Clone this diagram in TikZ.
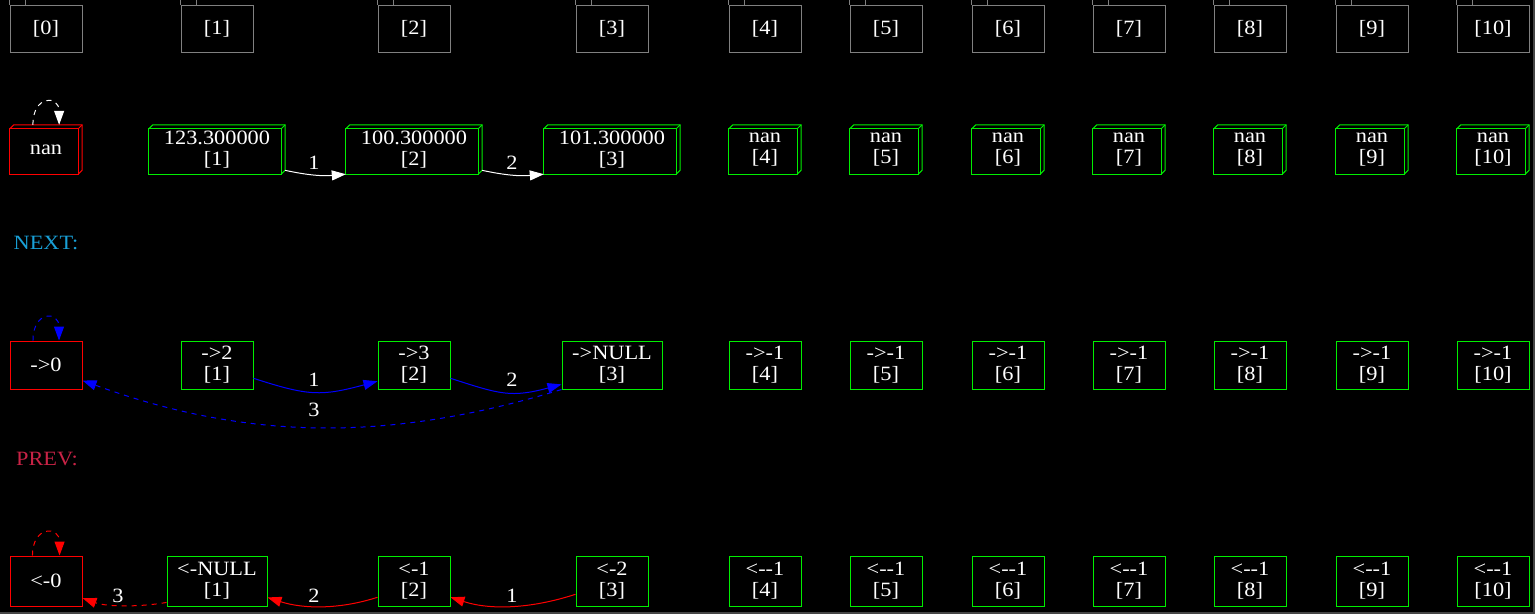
\documentclass[tikz,border=0pt]{standalone}
\usepackage{fontspec}
\setmainfont{Liberation Serif}[FakeStretch=1.1]
\usetikzlibrary{arrows.meta,calc}
\definecolor{gvgreen}{RGB}{0,238,0}
\definecolor{gvgray}{RGB}{128,128,128}
\definecolor{edgegray}{RGB}{70,70,70}
\definecolor{nextcol}{RGB}{25,160,215}
\definecolor{prevcol}{RGB}{200,35,70}
\begin{document}
\begin{tikzpicture}[x=1pt,y=-1pt,
  every node/.style={font=\fontsize{20.3}{21}\selectfont, text=white, inner sep=0pt, align=center},
  fold/.style={draw=gvgray, line width=1pt, minimum width=72pt, minimum height=47pt},
  cube/.style={minimum height=49pt},
  plainbox/.style={draw=gvgreen, line width=1pt},
  tip/.style={-{Triangle[length=14pt,width=10pt]}},
  edge/.style={line width=1pt, tip},
  dsh/.style={dash pattern=on 5pt off 5pt}]
\fill[black] (0,0) rectangle (1535,614);
\useasboundingbox (0,0) rectangle (1535,614);
\draw[edgegray, line width=1.5pt] (1534.2,0) -- (1534.2,613.2) -- (0,613.2);

% row 1: folders
\foreach \i/\x in {0/46,1/217,2/414,3/612,4/765,5/886,6/1008,7/1129,8/1250,9/1372,10/1493}{
  \node[fold] (f\i) at (\x,28.5) {[\i]};
  \draw[gvgray, line width=1pt] (f\i.north west) -- ++(0,-5) -- ++(16,0) -- ++(0,5);
}

% row 2: 3d boxes
\foreach \i/\x/\w/\t/\c in {0/46/72/{nan}/red,
  1/217/136/{123.300000\\{[1]}}/gvgreen,
  2/414/136/{100.300000\\{[2]}}/gvgreen,
  3/612/136/{101.300000\\{[3]}}/gvgreen,
  4/765/72/{nan\\{[4]}}/gvgreen,
  5/886/72/{nan\\{[5]}}/gvgreen,
  6/1008/72/{nan\\{[6]}}/gvgreen,
  7/1129/72/{nan\\{[7]}}/gvgreen,
  8/1250/72/{nan\\{[8]}}/gvgreen,
  9/1372/72/{nan\\{[9]}}/gvgreen,
  10/1493/72/{nan\\{[10]}}/gvgreen}{
  \node[cube, minimum width=\w pt] (b\i) at (\x,149.5) {\t};
  \draw[\c, line width=1pt] ($(b\i.north west)+(0,4)$) rectangle ($(b\i.south east)+(-4,0)$);
  \draw[\c, line width=1pt] ($(b\i.north west)+(0,4)$) -- ++(4,-4) -- (b\i.north east)
     -- ($(b\i.south east)+(0,-4)$) -- ++(-4,4);
  \draw[\c, line width=1pt] ($(b\i.north east)+(-4,4)$) -- (b\i.north east);
}

\draw[white, edge, dsh] (b0.118) .. controls +(0,-30) and +(0,-30) .. (b0.62);
\draw[white, edge] (b1.-17) to[out=-12,in=-175] (b2.south west);
\node (lb1) at (314,163) {1};
\draw[white, edge] (b2.-17) to[out=-12,in=-175] (b3.south west);
\node (lb2) at (512,163) {2};

% labels
\node[text=nextcol] (nextlab) at (46,243) {NEXT:};
\node[text=prevcol] (prevlab) at (47,459) {PREV:};

% row 3: NEXT
\foreach \i/\x/\w/\t/\c in {0/46/72/{->0}/red,
  1/217/72/{->2\\{[1]}}/gvgreen,
  2/414/72/{->3\\{[2]}}/gvgreen,
  3/612/100/{->NULL\\{[3]}}/gvgreen,
  4/765/72/{->-1\\{[4]}}/gvgreen,
  5/886/72/{->-1\\{[5]}}/gvgreen,
  6/1008/72/{->-1\\{[6]}}/gvgreen,
  7/1129/72/{->-1\\{[7]}}/gvgreen,
  8/1250/72/{->-1\\{[8]}}/gvgreen,
  9/1372/72/{->-1\\{[9]}}/gvgreen,
  10/1493/72/{->-1\\{[10]}}/gvgreen}{
  \node[plainbox, draw=\c, minimum width=\w pt, minimum height=48pt] (n\i) at (\x,365) {\t};
}
\draw[blue, edge, dsh] (n0.118) .. controls +(0,-30) and +(0,-30) .. (n0.62);
\draw[blue, edge] (n1.-20) to[out=-18,in=-165,looseness=1.2] (n2.-156);
\node (ln1) at (314,380) {1};
\draw[blue, edge] (n2.-20) to[out=-18,in=-165,looseness=1.2] (n3.-159);
\node (ln2) at (512,380) {2};
\draw[blue, edge, dsh] (n3.south west) to[out=-163,in=-20,looseness=0.95] (n0.-23);
\node (ln3) at (314,410) {3};

% row 4: PREV
\foreach \i/\x/\w/\t/\c in {0/46/72/{<-0}/red,
  1/217/100/{<-NULL\\{[1]}}/gvgreen,
  2/414/72/{<-1\\{[2]}}/gvgreen,
  3/612/72/{<-2\\{[3]}}/gvgreen,
  4/765/72/{<-{}-1\\{[4]}}/gvgreen,
  5/886/72/{<-{}-1\\{[5]}}/gvgreen,
  6/1008/72/{<-{}-1\\{[6]}}/gvgreen,
  7/1129/72/{<-{}-1\\{[7]}}/gvgreen,
  8/1250/72/{<-{}-1\\{[8]}}/gvgreen,
  9/1372/72/{<-{}-1\\{[9]}}/gvgreen,
  10/1493/72/{<-{}-1\\{[10]}}/gvgreen}{
  \node[plainbox, draw=\c, minimum width=\w pt, minimum height=50pt] (p\i) at (\x,581) {\t};
}
\draw[red, edge, dsh] (p0.118) .. controls +(0,-30) and +(0,-30) .. (p0.62);
\draw[red, edge] (p3.-160) to[out=-162,in=-18,looseness=0.9] (p2.-24);
\node (lp1) at (512,596) {1};
\draw[red, edge] (p2.-156) to[out=-162,in=-18,looseness=0.9] (p1.-18);
\node (lp2) at (314,596) {2};
\draw[red, edge, dsh] (p1.-157) to[out=-170,in=-20,looseness=0.8] (p0.-25);
\node (lp3) at (118,596) {3};
\end{tikzpicture}
\end{document}
